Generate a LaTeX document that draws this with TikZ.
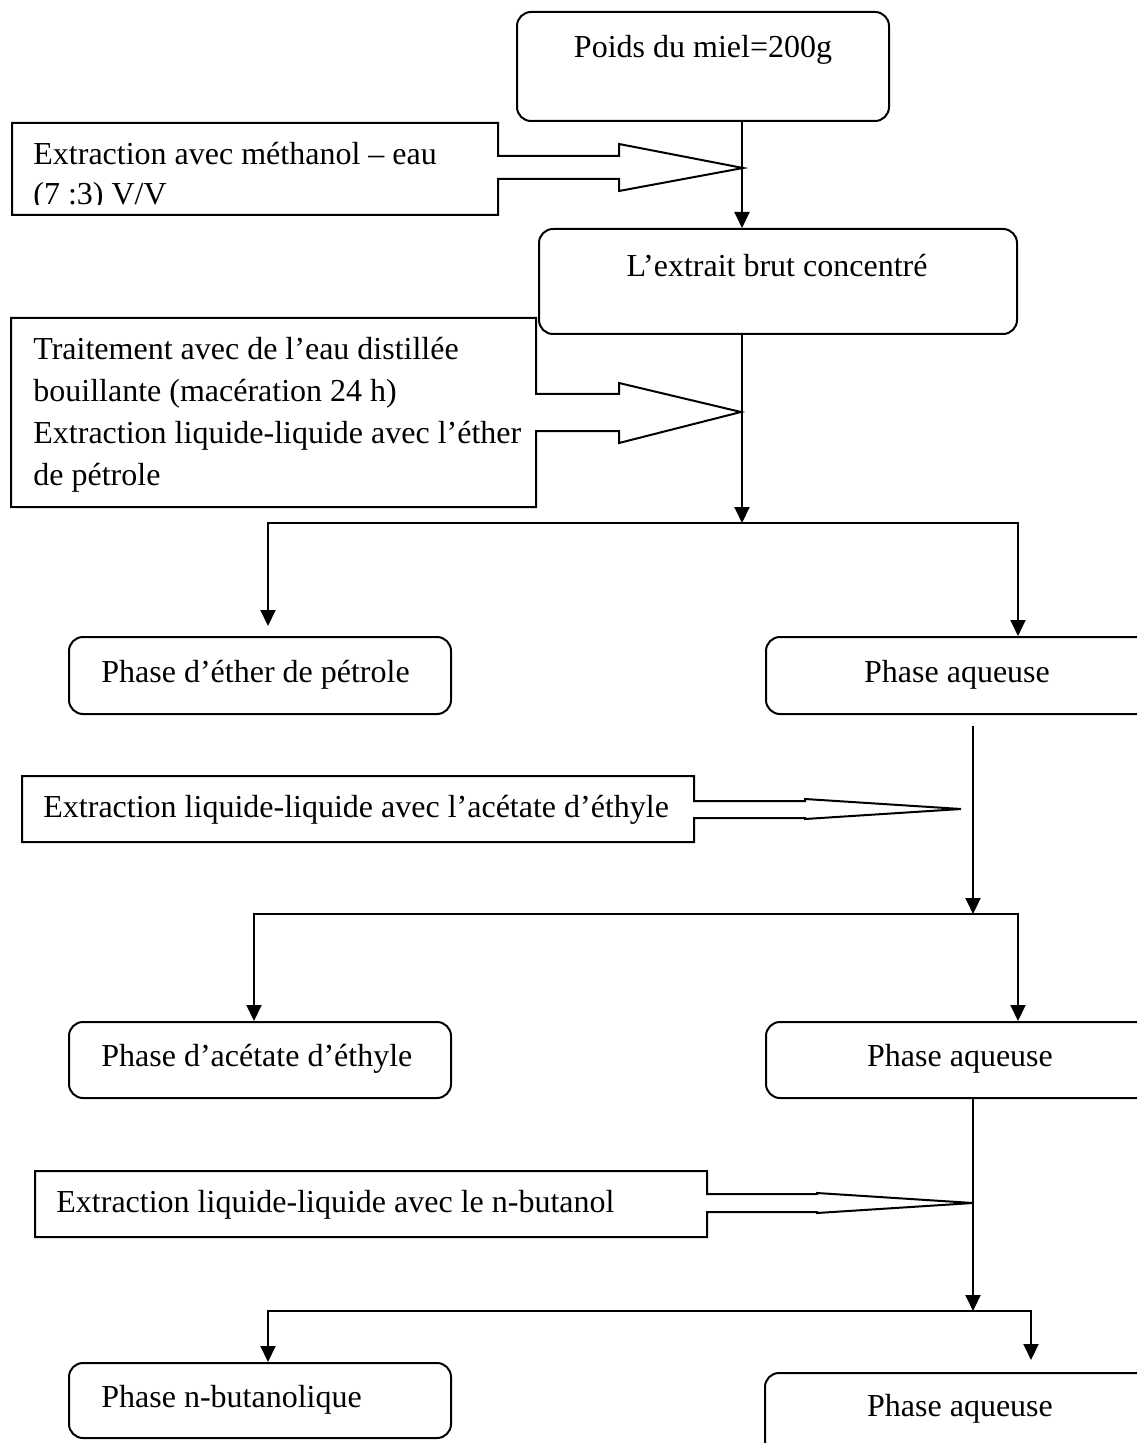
\documentclass[tikz,border=0pt]{standalone}
\usepackage{fontspec}
\setmainfont{Liberation Serif}
\usetikzlibrary{arrows.meta,positioning}
\tikzstyle{arrow} = [
    line width=1pt,
    -{Triangle[length=8pt,width=7.5pt]}
]
\tikzstyle{phase} = [
    rectangle,
    rounded corners=7pt,
    draw,
    line width=1pt,
    inner sep=0pt
]
\tikzstyle{flow} = [
    draw,
    line width=1pt
]
\tikzstyle{txt} = [
    inner sep=0pt,
    font=\fontsize{16}{20.85}\selectfont
]

\begin{document}
\begin{tikzpicture}[x=0.5pt,y=-0.5pt]
    \fill[white] (0,0) rectangle (1136,1443);
    \useasboundingbox (0,0) rectangle (1136,1443);

    % Main boxes
    \node[phase, minimum width=186pt, minimum height=54.5pt] (poids) at (703,66.5) {};
    \node[phase, minimum width=239pt, minimum height=52.5pt] (brut) at (778,281.5) {};
    \node[phase, minimum width=191pt, minimum height=38.5pt] (phEther) at (260,675.5) {};
    \node[phase, minimum width=197pt, minimum height=38.5pt] (phAq1) at (963,675.5) {};
    \node[phase, minimum width=191pt, minimum height=38pt] (phAcet) at (260,1060) {};
    \node[phase, minimum width=197pt, minimum height=38pt] (phAq2) at (963,1060) {};
    \node[phase, minimum width=191pt, minimum height=37.5pt] (phBut) at (260,1400.5) {};
    \node[phase, minimum width=197.5pt, minimum height=43.5pt] (phAq3) at (962.5,1416.5) {};

    % Side steps with their block arrows
    \draw[flow] (498,156) -- (498,123) -- (12,123) -- (12,215) -- (498,215) -- (498,179)
        -- (619,179) -- (619,191) -- (743,168) -- (619,144) -- (619,156) -- cycle;
    \draw[flow] (536,394) -- (536,318) -- (11,318) -- (11,507) -- (536,507) -- (536,431)
        -- (619,431) -- (619,443) -- (741,412) -- (619,383) -- (619,394) -- cycle;
    \draw[flow] (694,801) -- (694,776) -- (22,776) -- (22,842) -- (694,842) -- (694,818)
        -- (805,818) -- (805,819) -- (961,809) -- (805,799) -- (805,801) -- cycle;
    \draw[flow] (707,1194) -- (707,1171) -- (35,1171) -- (35,1237) -- (707,1237) -- (707,1212)
        -- (817,1212) -- (817,1213) -- (973,1203) -- (817,1193) -- (817,1194) -- cycle;

    % Texts
    \node[txt, anchor=base] (tPoids) at (703,58) {Poids du miel=200g};
    \node[txt, anchor=base] (tBrut) at (777,277) {L’extrait brut concentré};
    \begin{scope}
        \clip (12,123) rectangle (498,205);
        \node[txt, anchor=base west, align=left, font=\fontsize{16}{20}\selectfont] (tMeth) at (33,205)
            {Extraction avec méthanol – eau\\(7 :3) V/V};
    \end{scope}
    \node[txt, anchor=base west, align=left] (tEau) at (33,485)
        {Traitement avec de l’eau distillée\\bouillante (macération 24 h)\\Extraction liquide-liquide avec l’éther\\de pétrole};
    \node[txt, anchor=base west] (tAcet) at (43,817) {Extraction liquide-liquide avec l’acétate d’éthyle};
    \node[txt, anchor=base west] (tBut) at (56,1212) {Extraction liquide-liquide avec le n-butanol};
    \node[txt, anchor=base west] (tEther) at (101,682) {Phase d’éther de pétrole};
    \node[txt, anchor=base] (tAq1) at (957,682) {Phase aqueuse};
    \node[txt, anchor=base west] (tAcetPh) at (101,1066) {Phase d’acétate d’éthyle};
    \node[txt, anchor=base] (tAq2) at (960,1066) {Phase aqueuse};
    \node[txt, anchor=base west] (tButPh) at (101,1407) {Phase n-butanolique};
    \node[txt, anchor=base] (tAq3) at (960,1416) {Phase aqueuse};

    % Junctions
    \coordinate (j1) at (742,523);
    \coordinate (l1) at (268,523);
    \coordinate (r1) at (1018,523);
    \coordinate (j2) at (973,914);
    \coordinate (l2) at (254,914);
    \coordinate (r2) at (1018,914);
    \coordinate (j3) at (973,1311);
    \coordinate (l3) at (268,1311);
    \coordinate (r3) at (1031,1311);

    % Connectors
    \draw[arrow] (poids.south -| j1) -- (brut.north -| j1);
    \draw[arrow] (brut.south -| j1) -- (j1);
    \draw[arrow] (j1) -| ([yshift=5pt]phEther.north -| l1);
    \draw[arrow] (j1) -| (phAq1.north -| r1);
    \draw[arrow] ([yshift=-5.5pt]phAq1.south -| j2) -- (j2);
    \draw[arrow] (j2) -| (phAcet.north -| l2);
    \draw[arrow] (j2) -| (phAq2.north -| r2);
    \draw[arrow] (phAq2.south -| j3) -- (j3);
    \draw[arrow] (j3) -| (phBut.north -| l3);
    \draw[arrow] (j3) -| ([yshift=6pt]phAq3.north -| r3);
\end{tikzpicture}
\end{document}
